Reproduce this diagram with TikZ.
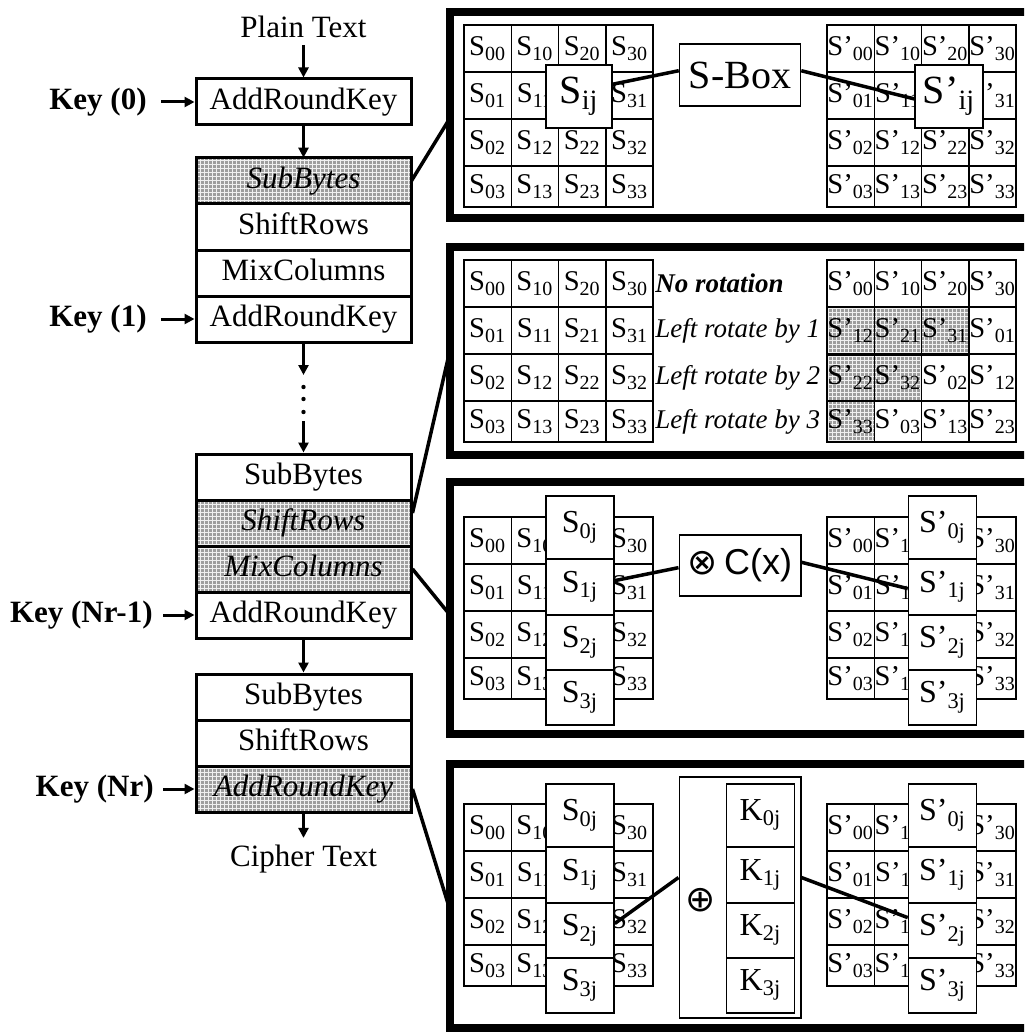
\documentclass[tikz,border=0pt]{standalone}
\usepackage{fontspec}
\setmainfont{Liberation Serif}
\newfontfamily\arialfont{Liberation Sans}
\newfontfamily\symbolfont{DejaVu Sans}
\usetikzlibrary{arrows.meta,patterns.meta}
\newcommand{\stagefont}{\fontsize{15.5}{18}\selectfont}
\newcommand{\cellfont}{\fontsize{14.3}{17}\selectfont}
\newcommand{\rowfont}{\fontsize{13.5}{16}\selectfont}
\newcommand{\colfont}{\fontsize{16}{19}\selectfont}
\newcommand{\bigfont}{\fontsize{20}{24}\selectfont}
\newcommand{\plainlabels}{00,10,20,30,01,11,21,31,02,12,22,32,03,13,23,33}
\newcommand{\shiftlabels}{00,10,20,30,12,21,31,01,22,32,02,12,33,03,13,23}
% 4x4 state: #1,#2 top left corner, #3 letter, #4 name, #5 subscripts
\newcommand{\stategrid}[5]{%
  \foreach \lab [count=\ci from 0] in #5 {
    \pgfmathtruncatemacro\gc{mod(\ci,4)}
    \pgfmathtruncatemacro\gr{div(\ci,4)}
    \pgfmathsetmacro\ry{{0,47,94,141}[\gr]}
    \pgfmathsetmacro\rh{{47,47,47,41}[\gr]}
    \draw[cellline] ({#1+47.3*\gc},{#2+\ry}) rectangle ++(47.3,\rh);
    \node[celltext] (#4\gc\gr) at ({#1+47.3*\gc+23.65},{#2+\ry+\rh/2}) {#3\textsubscript{\lab}};
  }%
}

\begin{document}
\begin{tikzpicture}[x=0.5pt, y=-0.5pt, >={Triangle[length=5pt,width=5pt]},
  stagebox/.style={draw, line width=1.5pt, minimum width=107.5pt, minimum height=23pt,
    text height=11pt, text depth=3.5pt, inner sep=0pt, font=\stagefont},
  shaded/.style={preaction={fill=black!38}, pattern={Hatch[distance=2pt, angle=0, line width=0.35pt]},
    pattern color=black!6},
  active/.style={stagebox, shaded, font=\stagefont\itshape},
  keylabel/.style={inner sep=0pt, font=\stagefont\bfseries},
  flow/.style={->, line width=1.5pt},
  link/.style={line width=1.75pt},
  frame/.style={line width=4pt},
  cellline/.style={line width=0.75pt},
  celltext/.style={inner sep=0pt, font=\cellfont},
  opbox/.style={draw, fill=white, line width=0.75pt, inner sep=0pt},
  colcell/.style={opbox, minimum width=34pt, font=\colfont},
  rowlabel/.style={anchor=west, inner sep=0pt, font=\rowfont\itshape}]
  \clip (0,0) rectangle (1024,1032);

  % cipher rounds
  \node[font=\stagefont] (plain) at (303.5,27) {Plain Text};
  \node[stagebox] (ark0) at (303.5,102) {AddRoundKey};
  \node[active] (sb1) at (303.5,181) {SubBytes};
  \node[stagebox] (sr1) at (303.5,227) {ShiftRows};
  \node[stagebox] (mc1) at (303.5,273) {MixColumns};
  \node[stagebox] (ark1) at (303.5,319) {AddRoundKey};
  \node[stagebox] (sb2) at (303.5,477) {SubBytes};
  \node[active] (sr2) at (303.5,523) {ShiftRows};
  \node[active] (mc2) at (303.5,569) {MixColumns};
  \node[stagebox] (ark2) at (303.5,615) {AddRoundKey};
  \node[stagebox] (sb3) at (303.5,697) {SubBytes};
  \node[stagebox] (sr3) at (303.5,743) {ShiftRows};
  \node[active] (ark3) at (303.5,789) {AddRoundKey};
  \node[font=\stagefont] (cipher) at (303.5,859) {Cipher Text};
  \coordinate (gaptop) at (303.5,375);
  \coordinate (gapbot) at (303.5,421);

  \draw[flow] (plain) -- (ark0);
  \draw[flow] (ark0) -- (sb1);
  \draw[flow] (ark1) -- (gaptop);
  \foreach \dy in {387,399,412} \fill (303.5,\dy) circle (2.2);
  \draw[flow] (gapbot) -- (sb2);
  \draw[flow] (ark2) -- (sb3);
  \draw[flow] (ark3) -- (cipher);

  % round keys
  \node[keylabel, anchor=east] (kin0) at (147,102) {Key (0)};
  \node[keylabel, anchor=east] (kin1) at (147,319) {Key (1)};
  \node[keylabel, anchor=east] (kinm) at (153,615) {Key (Nr-1)};
  \node[keylabel, anchor=east] (kinr) at (154,789) {Key (Nr)};
  \draw[flow, shorten <=7pt] (kin0) -- (ark0);
  \draw[flow, shorten <=7pt] (kin1) -- (ark1);
  \draw[flow, shorten <=5pt] (kinm) -- (ark2);
  \draw[flow, shorten <=4.5pt] (kinr) -- (ark3);

  % SubBytes panel
  \stategrid{464}{25}{S}{subin}{\plainlabels}
  \stategrid{827}{25}{S'}{subout}{\plainlabels}
  \node[opbox, minimum width=33pt, minimum height=31.5pt, font=\bigfont] (sij) at (579,96.5) {S\textsubscript{ij}};
  \node[opbox, minimum width=60.5pt, minimum height=31pt, font=\bigfont] (sbox) at (740,75) {S-Box};
  \node[opbox, minimum width=34pt, minimum height=31.5pt, font=\bigfont] (sijout) at (949,96.5) {S'\textsubscript{ij}};
  \draw[link] (sij.20) -- (sbox.176);
  \draw[link] (sbox.4) -- (sijout.184);

  % ShiftRows panel
  \foreach \gc/\gr in {0/1,1/1,2/1,0/2,1/2,0/3}{
    \pgfmathsetmacro\ry{{0,47,94,141}[\gr]}
    \pgfmathsetmacro\rh{{47,47,47,41}[\gr]}
    \path[shaded] ({827+47.3*\gc},{260+\ry}) rectangle ++(47.3,\rh);
  }
  \stategrid{464}{260}{S}{shin}{\plainlabels}
  \stategrid{827}{260}{S'}{shout}{\shiftlabels}
  \draw[line width=1.5pt] (827,354) -- ++(141.9,0);
  \node[rowlabel, font=\rowfont\bfseries\itshape] (norot) at (655,283.5) {No rotation};
  \node[rowlabel] (rot1) at (655,330.5) {Left rotate by 1};
  \node[rowlabel] (rot2) at (655,377.5) {Left rotate by 2};
  \node[rowlabel] (rot3) at (655,421.5) {Left rotate by 3};

  % MixColumns panel
  \stategrid{464}{517}{S}{mixin}{\plainlabels}
  \stategrid{827}{517}{S'}{mixout}{\plainlabels}
  \foreach \i/\oy/\h in {0/0/63,1/63/56,2/119/55,3/174/55}{
    \node[colcell, minimum height=\h*0.5pt, anchor=north] (mixcolin\i) at (580,495+\oy) {S\textsubscript{\i j}};
    \node[colcell, minimum height=\h*0.5pt, anchor=north] (mixcolout\i) at (942.5,495+\oy) {S'\textsubscript{\i j}};
  }
  \node[opbox, minimum width=60.75pt, minimum height=30.5pt, font=\fontsize{18}{22}\selectfont] (mixop) at (740,565.5)
    {{\symbolfont ⊗}\,{\arialfont C(x)}};
  \draw[link] (mixcolin1.10) -- (mixop.182);
  \draw[link] (mixop.3) -- (mixcolout1.183);

  % AddRoundKey panel
  \stategrid{464}{804}{S}{addin}{\plainlabels}
  \stategrid{827}{804}{S'}{addout}{\plainlabels}
  \node[opbox, minimum width=60.75pt, minimum height=120.5pt] (xorop) at (740,897.5) {};
  \node[inner sep=0pt, font=\fontsize{18}{22}\selectfont\symbolfont] (xorsym) at (701,900) {⊕};
  \foreach \i/\oy/\h in {0/0/63,1/63/56,2/119/55,3/174/55}{
    \node[colcell, minimum height=\h*0.5pt, anchor=north] (addcolin\i) at (580,783+\oy) {S\textsubscript{\i j}};
    \node[colcell, minimum height=\h*0.5pt, anchor=north] (rkey\i) at (760.5,783+\oy) {K\textsubscript{\i j}};
    \node[colcell, minimum height=\h*0.5pt, anchor=north] (addcolout\i) at (942.5,783+\oy) {S'\textsubscript{\i j}};
  }
  \draw[link] (addcolin2.11) -- (xorop.162);
  \draw[link] (xorop.18) -- (addcolout2.160);

  % zoom frames
  \coordinate (subpanel) at (450,118);
  \coordinate (shiftpanel) at (450,350);
  \coordinate (mixpanel) at (450,615);
  \coordinate (addpanel) at (450,910);
  \draw[link] (sb1.east) -- (subpanel);
  \draw[link] ([yshift=5pt]sr2.east) -- (shiftpanel);
  \draw[link] (mc2.east) -- (mixpanel);
  \draw[link] (ark3.east) -- (addpanel);
  \draw[frame] (450,12) rectangle (1040,218);
  \draw[frame] (450,247) rectangle (1040,455);
  \draw[frame] (450,482) rectangle (1040,734);
  \draw[frame] (450,764) rectangle (1040,1028);
\end{tikzpicture}
\end{document}
